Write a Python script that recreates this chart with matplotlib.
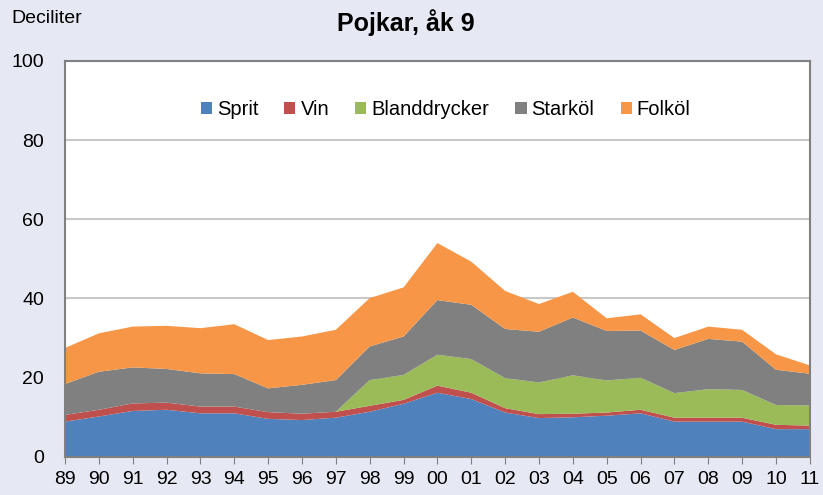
import matplotlib.pyplot as plt

years = ['89', '90', '91', '92', '93', '94', '95', '96', '97', '98', '99', '00',
         '01', '02', '03', '04', '05', '06', '07', '08', '09', '10', '11']
sprit = [8.9, 10.2, 11.6, 11.9, 11.0, 11.0, 9.6, 9.3, 9.9, 11.4, 13.4, 16.2,
         14.6, 11.2, 9.8, 10.0, 10.4, 11.0, 8.9, 8.9, 8.9, 7.0, 7.0]
vin = [1.7, 1.7, 1.9, 1.8, 1.7, 1.7, 1.7, 1.6, 1.5, 1.5, 1.0, 1.8,
       1.6, 1.1, 1.0, 0.9, 0.8, 0.9, 1.0, 1.0, 1.0, 1.1, 0.9]
blanddrycker = [0, 0, 0, 0, 0, 0, 0, 0, 0, 6.5, 6.3, 7.8,
                8.5, 7.6, 8.0, 9.7, 8.1, 8.1, 6.2, 7.2, 7.0, 5.0, 5.1]
starkol = [7.8, 9.6, 9.1, 8.5, 8.4, 8.2, 6.0, 7.3, 8.0, 8.5, 9.7, 13.8,
           13.7, 12.4, 12.8, 14.6, 12.5, 11.9, 10.9, 12.7, 12.2, 8.9, 8.0]
folkol = [9.1, 9.7, 10.3, 10.9, 11.4, 12.6, 12.2, 12.2, 12.7, 12.2, 12.4, 14.4,
          10.9, 9.6, 7.0, 6.5, 3.2, 4.1, 3.0, 3.1, 3.0, 3.9, 2.1]
labels = ['Sprit', 'Vin', 'Blanddrycker', 'Starköl', 'Folköl']

plt.rcParams['font.family'] = ['Liberation Sans', 'DejaVu Sans']


def plot_consumption(series):
    bg = '#e6e9f4'
    fig = plt.figure(figsize=(8.23, 4.95), dpi=100, facecolor=bg)
    ax = fig.add_axes([0.079, 0.077, 0.905, 0.8])

    # colors as in the old Excel palette
    colors = ['#4f81bd', '#c0504d', '#9bbb59', '#808080', '#f79646']
    x = list(range(len(years)))
    plt.stackplot(x, *series, labels=labels, colors=colors, linewidth=0)

    plt.xlim(0, len(years) - 1)
    plt.ylim(0, 100)
    plt.xticks(x, years, fontsize=14)
    plt.yticks([0, 20, 40, 60, 80, 100], fontsize=14)
    ax.yaxis.grid(True, color='#c8c8c8', linewidth=1.5)
    ax.set_axisbelow(True)
    ax.tick_params(axis='x', direction='out', length=5, color='#808080', pad=5)
    ax.tick_params(axis='y', length=0, pad=15)
    for spine in ax.spines.values():
        spine.set_color('#808080')
        spine.set_linewidth(1.5)

    plt.legend(loc='center', bbox_to_anchor=(0.511, 0.878), ncol=5, frameon=False,
               fontsize=14.5, handlelength=0.55, handleheight=0.55,
               handletextpad=0.25, columnspacing=1.3)

    fig.text(0.493, 0.955, 'Pojkar, åk 9', ha='center', va='center',
             fontsize=18, fontweight='bold')
    fig.text(0.014, 0.962, 'Deciliter', ha='left', va='center', fontsize=14)

    plt.savefig('out.png', facecolor=bg)


if __name__ == '__main__':
    plot_consumption([sprit, vin, blanddrycker, starkol, folkol])
